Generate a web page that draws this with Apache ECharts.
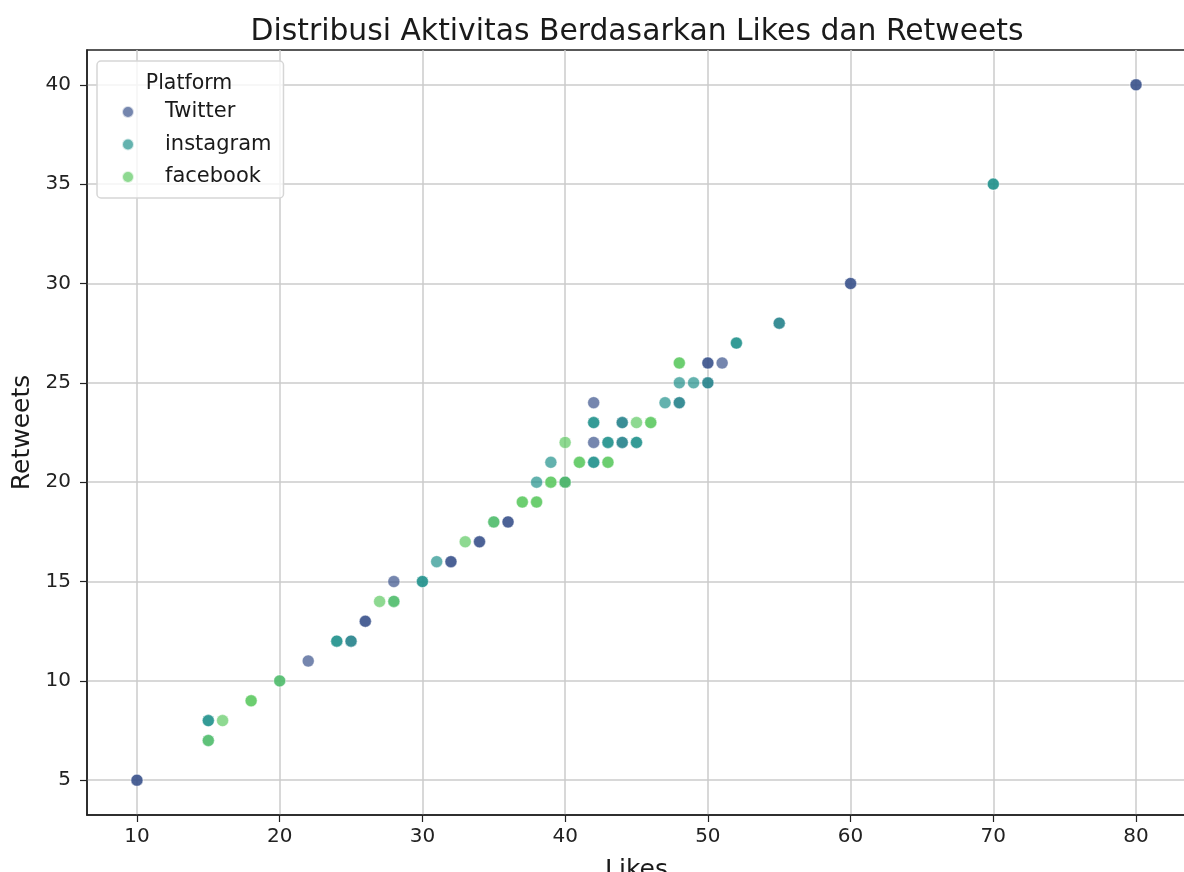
<!DOCTYPE html>
<html>
<head>
<meta charset="utf-8">
<script src="https://cdn.jsdelivr.net/npm/echarts@6/dist/echarts.min.js"></script>
<style>
  html, body { margin: 0; padding: 0; background: #fff; }
  #chart { width: 1184px; height: 872px; }
</style>
</head>
<body>
<div id="chart"></div>
<script>
// data: likes / retweets per platform (repeated pairs = stacked points)
const twitterLikes = [10, 10, 22, 25, 26, 26, 28, 32, 32, 34, 34, 36, 36, 40, 42, 42, 44, 44, 48, 50, 50, 50, 51, 55, 60, 60, 80, 80];
const twitterRetweets = [5, 5, 11, 12, 13, 13, 15, 16, 16, 17, 17, 18, 18, 20, 22, 24, 22, 23, 24, 25, 26, 26, 26, 28, 30, 30, 40, 40];

const instagramLikes = [15, 15, 15, 20, 24, 24, 25, 28, 30, 30, 31, 35, 38, 39, 40, 42, 42, 42, 42, 43, 43, 44, 44, 45, 45, 47, 48, 48, 49, 50, 52, 52, 55, 70, 70];
const instagramRetweets = [8, 8, 7, 10, 12, 12, 12, 14, 15, 15, 16, 18, 20, 21, 20, 21, 21, 23, 23, 22, 22, 22, 23, 22, 22, 24, 24, 25, 25, 25, 27, 27, 28, 35, 35];

const facebookLikes = [15, 16, 18, 18, 20, 27, 28, 33, 35, 37, 37, 38, 38, 39, 39, 40, 40, 41, 41, 43, 43, 45, 46, 46, 48, 48];
const facebookRetweets = [7, 8, 9, 9, 10, 14, 14, 17, 18, 19, 19, 19, 19, 20, 20, 20, 22, 21, 21, 21, 21, 23, 23, 23, 26, 26];

const platforms = ['Twitter', 'instagram', 'facebook'];
const colors = ['#3b528b', '#21918c', '#5ec962'];

const xTicks = [10, 20, 30, 40, 50, 60, 70, 80];
const yTicks = [5, 10, 15, 20, 25, 30, 35, 40];

const zip = (xs, ys) => xs.map((x, i) => [x, ys[i]]);
const seriesData = [
  zip(twitterLikes, twitterRetweets),
  zip(instagramLikes, instagramRetweets),
  zip(facebookLikes, facebookRetweets),
];

const font = 'DejaVu Sans';
const chart = echarts.init(document.getElementById('chart'));

const option = {
  animation: false,
  backgroundColor: '#fff',
  textStyle: { fontFamily: font },
  title: [
    {
      text: 'Distribusi Aktivitas Berdasarkan Likes dan Retweets',
      left: 632, top: 12, textAlign: 'center',
      textStyle: { fontFamily: font, fontSize: 29.8, fontWeight: 'normal', color: '#1a1a1a' },
    },
    {
      text: 'Platform',
      left: 184, top: 68, textAlign: 'center',
      textStyle: { fontFamily: font, fontSize: 20.5, fontWeight: 'normal', color: '#1a1a1a' },
    },
  ],
  legend: {
    orient: 'vertical',
    left: 97, top: 61,
    padding: [40, 12, 10, 24],
    itemGap: 10.5,
    itemWidth: 12, itemHeight: 12,
    data: platforms.map((name) => ({ name, icon: 'circle' })),
    textStyle: { fontFamily: font, fontSize: 21, lineHeight: 22, color: '#1a1a1a', padding: [0, 0, 0, 26] },
    backgroundColor: 'rgba(255,255,255,0.8)',
    borderColor: '#d6d6d6', borderWidth: 1.5, borderRadius: 4,
    selectedMode: false,
  },
  grid: {
    left: 87, top: 50, width: 1099, height: 765,
    outerBoundsMode: 'none',
    show: true, borderColor: '#222', borderWidth: 1.5,
  },
  xAxis: {
    type: 'value', min: 6.5, max: 83.5, splitNumber: 8,
    name: 'Likes', nameLocation: 'middle', nameGap: 43,
    nameTextStyle: { fontFamily: font, fontSize: 25, color: '#1a1a1a' },
    axisLine: { show: true, lineStyle: { color: '#222', width: 1.5 } },
    axisTick: { show: true, length: 7, customValues: xTicks, lineStyle: { color: '#222', width: 1.2 } },
    axisLabel: { customValues: xTicks, fontSize: 20, color: '#222', margin: 12, fontFamily: font },
    splitLine: { show: true, lineStyle: { color: '#cbcbcb', width: 1.5 } },
  },
  yAxis: {
    type: 'value', min: 3.25, max: 41.75, splitNumber: 8,
    name: 'Retweets', nameLocation: 'middle', nameGap: 52, nameRotate: 90,
    nameTextStyle: { fontFamily: font, fontSize: 25, color: '#1a1a1a' },
    axisLine: { show: true, lineStyle: { color: '#222', width: 1.5 } },
    axisTick: { show: true, length: 7, customValues: yTicks, lineStyle: { color: '#222', width: 1.2 } },
    axisLabel: { customValues: yTicks, fontSize: 20, color: '#222', margin: 16, fontFamily: font },
    splitLine: { show: true, lineStyle: { color: '#cbcbcb', width: 1.5 } },
  },
  series: platforms.map((name, i) => ({
    name,
    type: 'scatter',
    data: seriesData[i],
    symbol: 'circle',
    symbolSize: 12,
    itemStyle: { color: colors[i], opacity: 0.7, borderColor: '#fff', borderWidth: 0.6 },
  })),
};

chart.setOption(option);
</script>
</body>
</html>
